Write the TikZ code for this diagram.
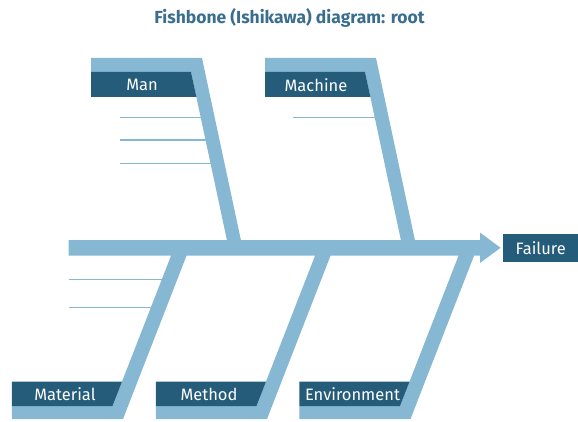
\documentclass[tikz,border=0pt]{standalone}
\usepackage{fontspec}
\setmainfont{Fira Sans}
\definecolor{bone}{HTML}{86B7D3}
\definecolor{tag}{HTML}{245C79}
\definecolor{ttl}{HTML}{3A6E8E}
\begin{document}
\begin{tikzpicture}[x=1pt,y=-1pt,
  tagtext/.style={text=white,font=\fontsize{16.5}{16.5}\selectfont,inner sep=0pt,anchor=center},
  rib/.style={draw=bone,line width=1.5pt},
  effect/.style={fill=tag,text=white,font=\fontsize{16.5}{16.5}\selectfont,
    minimum width=75pt,minimum height=28pt,inner sep=0pt,anchor=west}]
\useasboundingbox (0,0) rectangle (578,422);
\node[font=\bfseries\fontsize{17.5}{17.5}\selectfont,text=ttl] (title) at (289.5,18) {Fishbone (Ishikawa) diagram: root};
% spine with arrow head
\fill[bone] (68.5,240) -- (480,240) -- (480,232.5) -- (500.5,247.8) -- (480,263)
  -- (480,255.7) -- (68.5,255.7) -- cycle;
\node[effect] (failure) at (503,248) {Failure};
% upper bones
\foreach \dx/\lab/\nm in {0/Man/man,174/Machine/machine}{
  \begin{scope}[xshift=\dx]
    \fill[bone] (91,58) -- (202,58) -- (241,240.5) -- (227,240.5) -- (191,72) -- (91,72) -- cycle;
    \fill[tag] (91,72) -- (191,72) -- (196.4,97) -- (91,97) -- cycle;
    \node[tagtext] (\nm) at (142,85) {\lab};
  \end{scope}
}
\draw[rib] (120,117.7) -- (200.8,117.7);
\draw[rib] (120,140) -- (205.6,140);
\draw[rib] (120,163.3) -- (210.6,163.3);
\draw[rib] (293,117.7) -- (375,117.7);
% lower bones
\foreach \dx/\lab/\nm in {0/Material/material,144/Method/method,287.5/Environment/environment}{
  \begin{scope}[xshift=\dx]
    \fill[bone] (171.3,255) -- (186.8,255) -- (123,419) -- (11.8,419) -- (11.8,406)
      -- (112.5,406) -- cycle;
    \fill[tag] (11.8,381.7) -- (122,381.7) -- (112.5,406) -- (11.8,406) -- cycle;
    \node[tagtext] (\nm) at (65,394) {\lab};
  \end{scope}
}
\draw[rib] (68.5,279.3) -- (162.1,279.3);
\draw[rib] (68.5,307.3) -- (151.1,307.3);
\end{tikzpicture}
\end{document}
